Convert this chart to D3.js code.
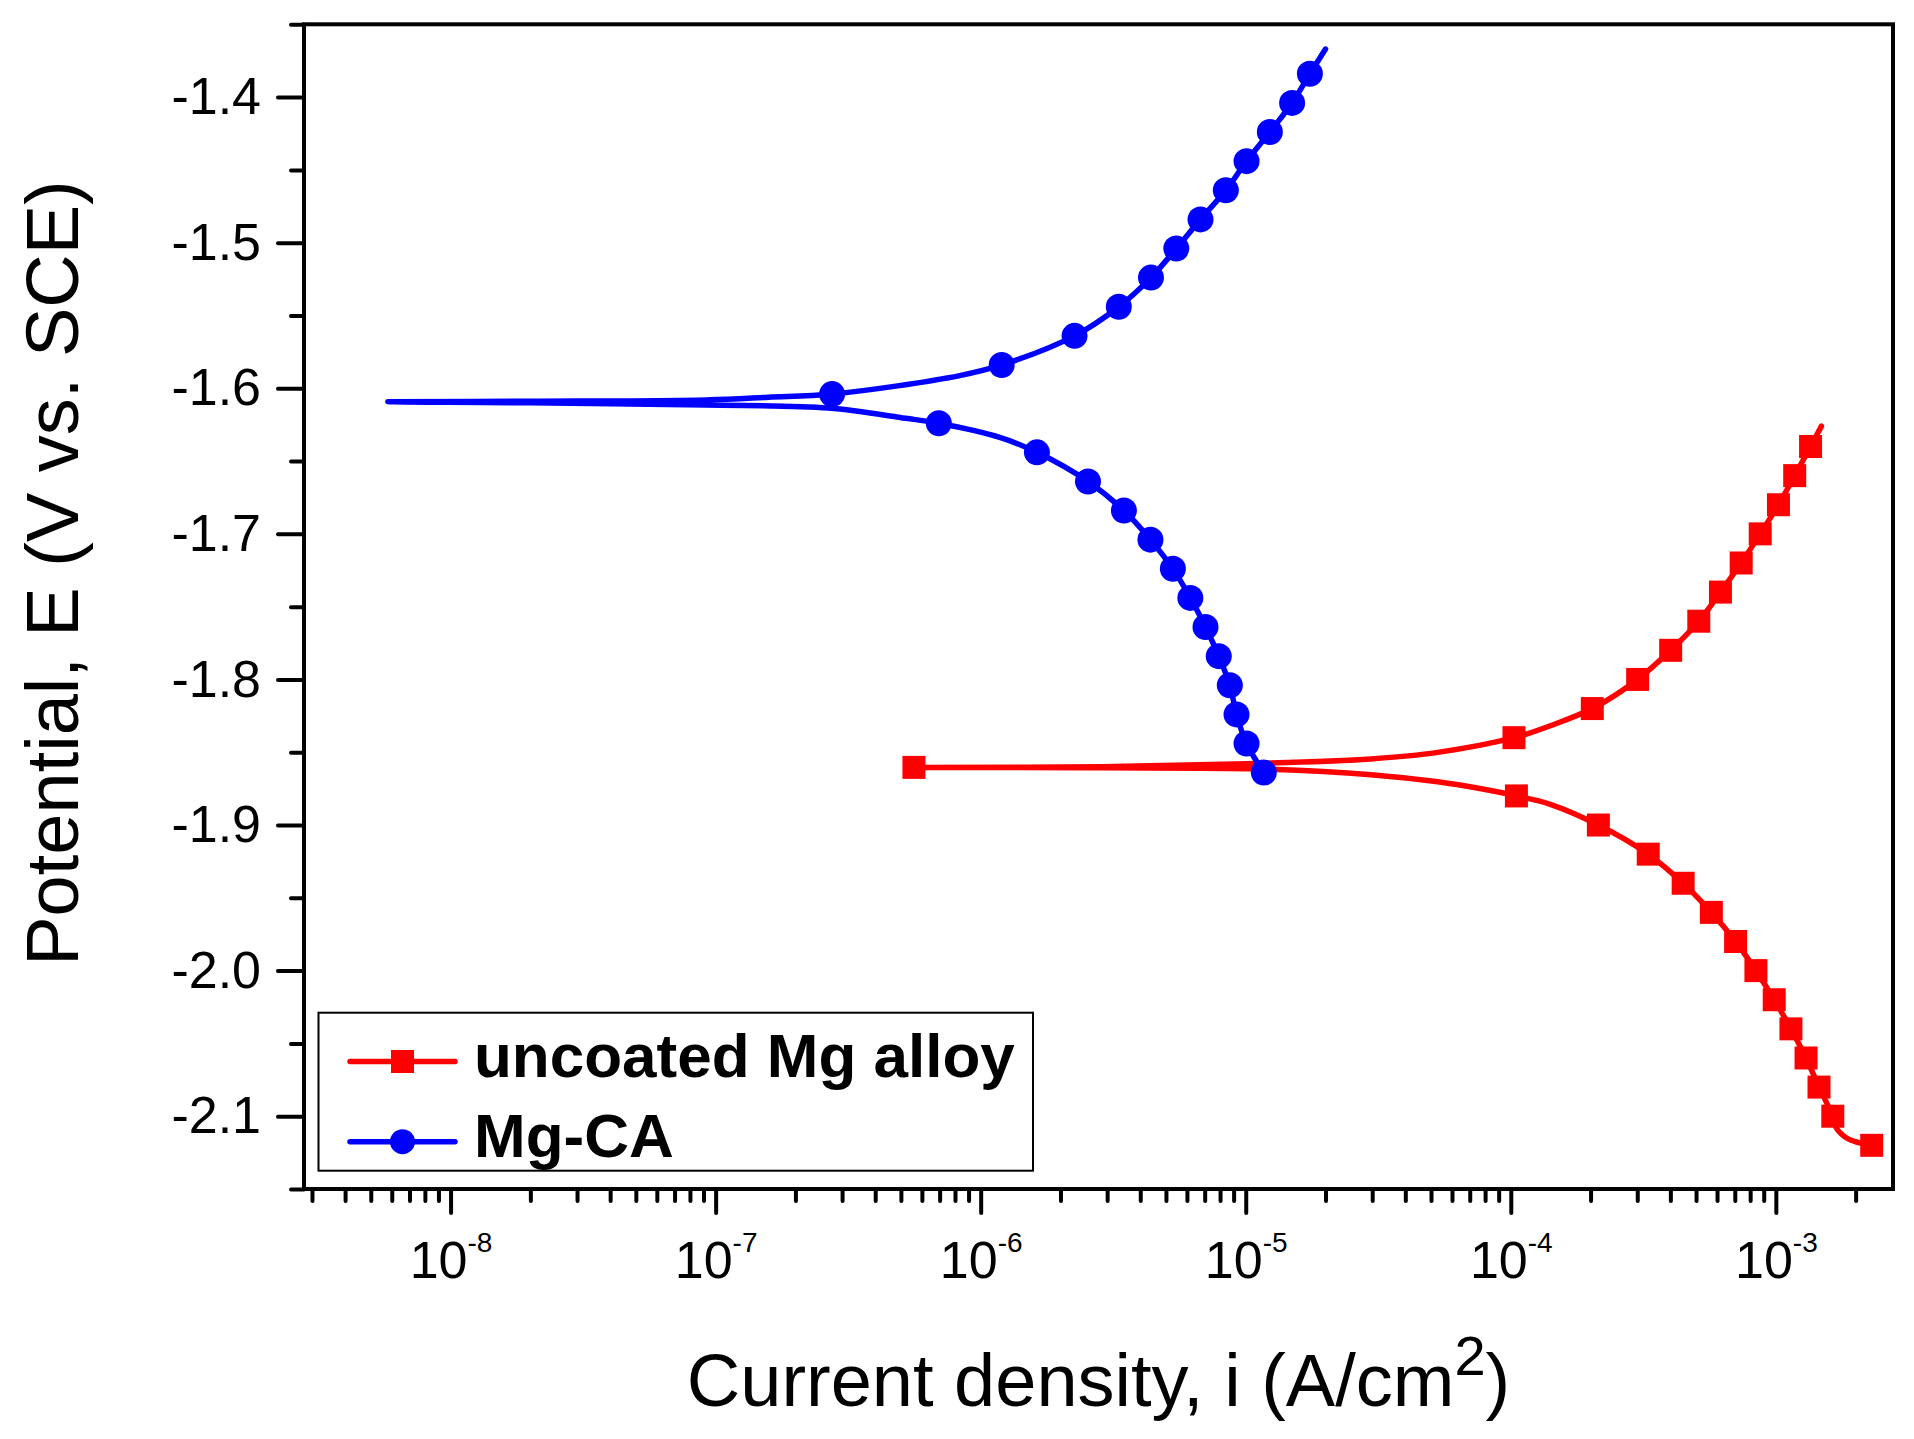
<!DOCTYPE html>
<html>
<head>
<meta charset="utf-8">
<script src="https://cdn.jsdelivr.net/npm/d3@7"></script>
<style>
  body { margin: 0; background: #fff; }
  svg { display: block; }
  text { font-family: "Liberation Sans", Arial, sans-serif; fill: #000; }
</style>
</head>
<body>
<svg id="chart" width="1914" height="1439"></svg>
<script>
// ---------------- data ----------------
// uncoated Mg alloy: potential (V vs SCE) and current density (A/cm2), in scan order
const ucPotential = [-2.120, -2.118, -2.115, -2.108, -2.100, -2.080, -2.060, -2.040, -2.020, -2.000,
  -1.980, -1.960, -1.940, -1.920, -1.900, -1.8856, -1.880, -1.8753, -1.8703, -1.8654,
  -1.8615, -1.8607, -1.8604, -1.8599, -1.8577, -1.8546, -1.8501, -1.840, -1.832, -1.820,
  -1.800, -1.780, -1.760, -1.740, -1.720, -1.700, -1.680, -1.660, -1.640, -1.626];
const ucCurrent = [2.30e-3, 2.04e-3, 1.85e-3, 1.69e-3, 1.64e-3, 1.455e-3, 1.30e-3, 1.14e-3, 9.86e-4, 8.41e-4,
  7.05e-4, 5.71e-4, 4.47e-4, 3.30e-4, 2.14e-4, 1.40e-4, 1.05e-4, 7.83e-5, 5.30e-5, 2.96e-5,
  1.117e-5, 2.88e-6, 5.6e-7, 2.88e-6, 1.117e-5, 2.96e-5, 5.30e-5, 1.028e-4, 1.40e-4, 2.03e-4,
  3.01e-4, 4.01e-4, 5.12e-4, 6.18e-4, 7.40e-4, 8.73e-4, 1.023e-3, 1.178e-3, 1.352e-3, 1.486e-3];
const ucSymbol = [1, 0, 0, 0, 1, 1, 1, 1, 1, 1,
  1, 1, 1, 1, 1, 0, 1, 0, 0, 0,
  0, 0, 1, 0, 0, 0, 0, 1, 0, 1,
  1, 1, 1, 1, 1, 1, 1, 1, 1, 0];

// Mg-CA
const caPotential = [-1.864, -1.844, -1.824, -1.804, -1.784, -1.764, -1.744, -1.724, -1.704, -1.684,
  -1.664, -1.644, -1.6337, -1.624, -1.6206, -1.6136, -1.6115, -1.6100, -1.6092, -1.6089,
  -1.6080, -1.6062, -1.604, -1.5913, -1.584, -1.564, -1.544, -1.524, -1.504, -1.484,
  -1.464, -1.444, -1.424, -1.404, -1.384, -1.367];
const caCurrent = [1.170e-5, 1.007e-5, 9.23e-6, 8.71e-6, 7.91e-6, 7.05e-6, 6.18e-6, 5.31e-6, 4.37e-6, 3.47e-6,
  2.54e-6, 1.63e-6, 1.18e-6, 6.95e-7, 5.21e-7, 2.66e-7, 9.2e-8, 2.0e-8, 5.8e-9, 2.0e-8,
  9.2e-8, 1.58e-7, 2.75e-7, 8.34e-7, 1.20e-6, 2.26e-6, 3.32e-6, 4.39e-6, 5.47e-6, 6.75e-6,
  8.41e-6, 1.007e-5, 1.233e-5, 1.496e-5, 1.746e-5, 2.0e-5];
const caSymbol = [1, 1, 1, 1, 1, 1, 1, 1, 1, 1,
  1, 1, 0, 1, 0, 0, 0, 0, 0, 0,
  0, 0, 1, 0, 1, 1, 1, 1, 1, 1,
  1, 1, 1, 1, 1, 0];

const seriesNames = ["uncoated Mg alloy", "Mg-CA"];
const seriesColors = ["#ff0000", "#0000ff"];

const xMajorTicks = [1e-8, 1e-7, 1e-6, 1e-5, 1e-4, 1e-3];
const yMajorTicks = [-2.1, -2.0, -1.9, -1.8, -1.7, -1.6, -1.5, -1.4];
const yMinorTicks = [-2.15, -2.05, -1.95, -1.85, -1.75, -1.65, -1.55, -1.45, -1.35];
const xDomain = [Math.pow(10, -8.553), Math.pow(10, -2.558)];
const yDomain = [-2.15, -1.35];

// ---------------- layout ----------------
const L = 304, R = 1893, T = 24.3, B = 1189;
const svg = d3.select("#chart");
svg.append("rect").attr("width", 1914).attr("height", 1439).attr("fill", "#fff");

const x = d3.scaleLog().domain(xDomain).range([L, R]);
const y = d3.scaleLinear().domain(yDomain).range([B, T]);

// minor x ticks
const xMinorTicks = [];
for (let e = -9; e <= -3; e++) {
  for (let m = 2; m <= 9; m++) {
    const v = m * Math.pow(10, e);
    if (v >= xDomain[0] && v <= xDomain[1]) xMinorTicks.push(v);
  }
}

const axisStroke = 4;
const curveWidth = 5.5;

// frame
svg.append("rect")
  .attr("x", L).attr("y", T).attr("width", R - L).attr("height", B - T)
  .attr("fill", "none").attr("stroke", "#000").attr("stroke-width", axisStroke);

function styleAxis(g) {
  g.select(".domain").remove();
  g.selectAll(".tick line").attr("stroke", "#000").attr("stroke-width", axisStroke).attr("stroke-linecap", "round");
}

// y axis
svg.append("g").attr("transform", `translate(${L},0)`)
  .call(d3.axisLeft(y).tickValues(yMinorTicks).tickSize(13).tickFormat(""))
  .call(styleAxis);
const yAx = svg.append("g").attr("transform", `translate(${L},0)`)
  .call(d3.axisLeft(y).tickValues(yMajorTicks).tickSize(26).tickPadding(17).tickFormat(d => d.toFixed(1)))
  .call(styleAxis);
yAx.selectAll(".tick text").attr("font-size", 52).attr("font-family", "Liberation Sans, Arial, sans-serif").attr("fill", "#000");

// x axis
svg.append("g").attr("transform", `translate(0,${B})`)
  .call(d3.axisBottom(x).tickValues(xMinorTicks).tickSize(12).tickFormat(""))
  .call(styleAxis);
const xAx = svg.append("g").attr("transform", `translate(0,${B})`)
  .call(d3.axisBottom(x).tickValues(xMajorTicks).tickSize(24).tickFormat(""))
  .call(styleAxis);
xAx.selectAll(".tick text").each(function (d) {
  const t = d3.select(this);
  t.text(null).attr("y", 89).attr("dy", null)
    .attr("font-size", 52).attr("fill", "#000")
    .attr("font-family", "Liberation Sans, Arial, sans-serif");
  t.append("tspan").text("10");
  t.append("tspan").attr("dy", -26).attr("font-size", 28).text(String(Math.round(Math.log10(d))));
});

// axis titles
svg.append("text")
  .attr("transform", `translate(78,573) rotate(-90)`)
  .attr("text-anchor", "middle").attr("font-size", 74)
  .text("Potential, E (V vs. SCE)");

const xt = svg.append("text")
  .attr("x", (L + R) / 2).attr("y", 1406)
  .attr("text-anchor", "middle").attr("font-size", 74);
xt.append("tspan").text("Current density, i (A/cm");
xt.append("tspan").attr("dy", -31).attr("font-size", 56).text("2");
xt.append("tspan").attr("dy", 31).text(")");

// ---------------- series ----------------
const line = d3.line()
  .x(d => x(d.i))
  .y(d => y(d.e))
  .curve(d3.curveCatmullRom.alpha(0.5));

function buildSeries(E, I, S) {
  return E.map((e, k) => ({ e: e, i: I[k], s: S[k] }));
}
const series = [
  { data: buildSeries(ucPotential, ucCurrent, ucSymbol), color: seriesColors[0], symbol: d3.symbolSquare, size: 529 },
  { data: buildSeries(caPotential, caCurrent, caSymbol), color: seriesColors[1], symbol: d3.symbolCircle, size: 531 }
];

series.forEach(s => {
  svg.append("path")
    .datum(s.data)
    .attr("d", line)
    .attr("fill", "none")
    .attr("stroke", s.color)
    .attr("stroke-width", curveWidth)
    .attr("stroke-linejoin", "round")
    .attr("stroke-linecap", "round");
  svg.append("g").selectAll("path")
    .data(s.data.filter(d => d.s === 1))
    .join("path")
    .attr("transform", d => `translate(${x(d.i)},${y(d.e)})`)
    .attr("d", d3.symbol().type(s.symbol).size(s.size))
    .attr("fill", s.color);
});

// ---------------- legend ----------------
const lg = svg.append("g");
lg.append("rect")
  .attr("x", 318.5).attr("y", 1012.7).attr("width", 714.5).attr("height", 158)
  .attr("fill", "#fff").attr("stroke", "#000").attr("stroke-width", 2);
const legendRows = [1061.5, 1141.7];
series.forEach((s, k) => {
  const yy = legendRows[k];
  lg.append("line").attr("x1", 350).attr("x2", 455).attr("y1", yy).attr("y2", yy)
    .attr("stroke", s.color).attr("stroke-width", curveWidth).attr("stroke-linecap", "round");
  lg.append("path").attr("transform", `translate(402.5,${yy})`)
    .attr("d", d3.symbol().type(s.symbol).size(k === 0 ? 529 : 490)).attr("fill", s.color);
  lg.append("text").attr("x", 474).attr("y", yy + 15.5)
    .attr("font-size", 62).attr("font-weight", "bold")
    .text(seriesNames[k]);
});
</script>
</body>
</html>
